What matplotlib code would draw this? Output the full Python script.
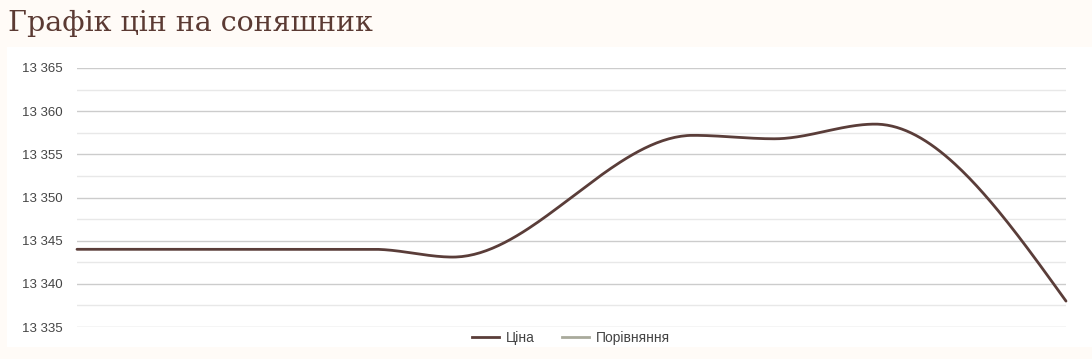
import matplotlib
matplotlib.use("Agg")
import matplotlib.pyplot as plt
from matplotlib.patches import Rectangle
from matplotlib.lines import Line2D
from matplotlib.ticker import MultipleLocator, FuncFormatter
import numpy as np

title = "Графік цін на соняшник"
series_names = ["Ціна", "Порівняння"]
x_pos = [0, 1, 2, 3, 3.8, 6.23, 7.05, 8.07, 10]
price = [13344, 13344, 13344, 13344, 13343.1, 13357.2, 13356.8, 13358.5, 13338]
y_min, y_max, y_step = 13335, 13365, 5

W, H = 1092, 359
fig = plt.figure(figsize=(W / 100, H / 100), dpi=100)
fig.patch.set_facecolor("#fffbf7")
fig.patches.append(Rectangle((7 / W, 1 - 347 / H), (W - 7) / W, 300 / H,
                             transform=fig.transFigure, facecolor="white",
                             edgecolor="none", zorder=-5))

ax = fig.add_axes([77 / W, 1 - 327 / H, 989 / W, 259 / H])
ax.set_facecolor("none")
ax.set_xlim(x_pos[0], x_pos[-1])
ax.set_ylim(y_min, y_max)
for s in ax.spines.values():
    s.set_visible(False)
ax.yaxis.set_major_locator(MultipleLocator(y_step))
ax.yaxis.set_minor_locator(MultipleLocator(y_step / 2))
ax.yaxis.set_major_formatter(FuncFormatter(lambda v, p: f"{int(round(v)):,}".replace(",", " ")))
ax.grid(True, which="major", axis="y", color="#cccccc", lw=1)
ax.grid(True, which="minor", axis="y", color="#e8e8e8", lw=1)
ax.set_xticks([])
ax.tick_params(axis="y", which="both", length=0, pad=10, labelsize=9.5, labelcolor="#444444")
for lab in ax.get_yticklabels():
    lab.set_family("Liberation Sans")

# monotone cubic interpolation (d3 monotoneX style)
x = np.array(x_pos, float)
y = np.array(price, float)
n = len(x)
h = np.diff(x)
s = np.diff(y) / h
m = np.zeros(n)
for i in range(1, n - 1):
    s0, s1 = s[i - 1], s[i]
    p = (s0 * h[i] + s1 * h[i - 1]) / (h[i - 1] + h[i])
    m[i] = (np.sign(s0) + np.sign(s1)) * min(abs(s0), abs(s1), 0.5 * abs(p))
m[0] = (3 * s[0] - m[1]) / 2
m[-1] = (3 * s[-1] - m[-2]) / 2
xx, yy = [], []
for i in range(n - 1):
    tt = np.linspace(0, 1, 80)
    h00 = 2 * tt**3 - 3 * tt**2 + 1
    h10 = tt**3 - 2 * tt**2 + tt
    h01 = -2 * tt**3 + 3 * tt**2
    h11 = tt**3 - tt**2
    xx.append(x[i] + tt * h[i])
    yy.append(h00 * y[i] + h10 * h[i] * m[i] + h01 * y[i + 1] + h11 * h[i] * m[i + 1])
ax.plot(np.concatenate(xx), np.concatenate(yy), color="#5a3d39", lw=2,
        solid_capstyle="round", clip_on=False)

fig.text(8 / W, 1 - 23 / H, title, family="DejaVu Serif", fontsize=20.5, color="#5b3a33",
         va="center", ha="left")

handles = [Line2D([], [], color="#5a3d39", lw=2), Line2D([], [], color="#a9aa9c", lw=2)]
leg = fig.legend(handles, series_names, loc="center", bbox_to_anchor=(571 / W, 1 - 338 / H),
                 ncol=2, frameon=False, handlelength=1.9, columnspacing=2.0,
                 handletextpad=0.5, labelcolor="#444444",
                 prop={"family": "Liberation Sans", "size": 10})
fig.savefig("out.png", dpi=100, facecolor=fig.get_facecolor())
